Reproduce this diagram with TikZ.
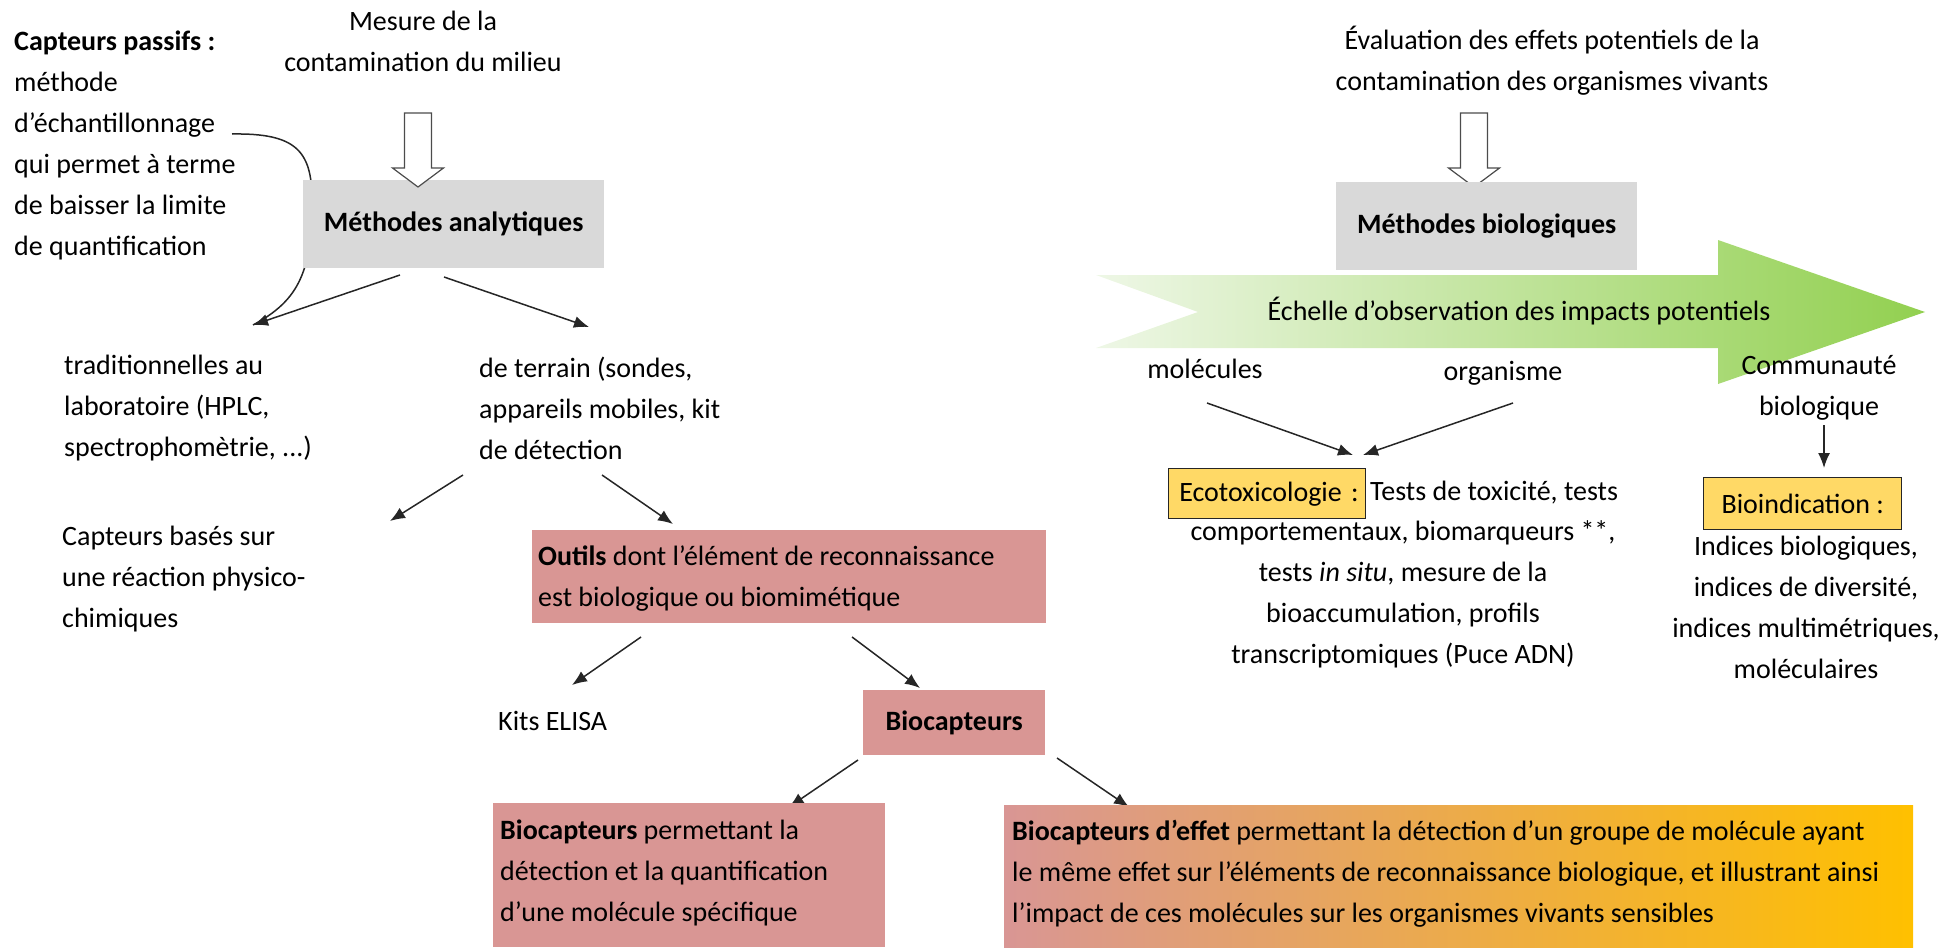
\documentclass[tikz,border=0pt]{standalone}
\usepackage{fontspec}
\setmainfont{Carlito}
\usetikzlibrary{arrows.meta}
\definecolor{grayfill}{HTML}{D9D9D9}
\definecolor{pinkfill}{HTML}{D99694}
\definecolor{goldfill}{HTML}{FFC000}
\definecolor{yellowfill}{HTML}{FFD966}
\definecolor{greenL}{HTML}{EEF7E6}
\definecolor{greenR}{HTML}{92D050}
\newcommand\fsz{\fontsize{28}{41}\selectfont}
\newcommand\hollowarr[1]{\draw[hollow] (#1) ++(-13.5,0) -- ++(0,55) -- ++(-12,0) -- ++(25.5,19) -- ++(25.5,-19) -- ++(-12,0) -- ++(0,-55) -- cycle;}
\begin{document}
\begin{tikzpicture}[x=1pt,y=-1pt,
  every node/.style={font=\fsz, inner sep=0pt, text=black},
  txt/.style={align=left, anchor=north west},
  ctxt/.style={align=center, anchor=north},
  lbl/.style={anchor=base west},
  arr/.style={-{Latex[length=15pt,width=12pt]}, line width=1.5pt, draw=black!85},
  hollow/.style={draw=black!70, line width=1.2pt, fill=white, line join=miter},
  graybox/.style={fill=grayfill, anchor=north west},
  pinkbox/.style={fill=pinkfill, anchor=north west},
  tagbox/.style={fill=yellowfill, draw=black!85, line width=1.4pt, anchor=north west}]
\useasboundingbox (0,0) rectangle (1942,947);

% ---------- left part ----------
\node[txt] (cap) at (14,22) {\strut\textbf{Capteurs passifs :}\\méthode\\d’échantillonnage\\qui permet à terme\\de baisser la limite\\de quantification};
\coordinate (capend) at (232,134);
\coordinate (tradtip) at (253,325);
\draw[line width=1.5pt, draw=black!85] (capend) .. controls (295,133) and (312,150) .. (312,200) .. controls (312,270) and (300,300) .. (tradtip);

\node[ctxt] (mes) at (423,2) {\strut Mesure de la\\contamination du milieu};
\node[graybox, minimum width=301pt, minimum height=88pt] (ma) at (303,180) {\textbf{Méthodes analytiques}};
\coordinate (ha1) at (418,113);
\hollowarr{ha1}

\coordinate (a1s) at (400,275);
\draw[arr] (a1s) -- (tradtip);
\coordinate (a2s) at (444,277); \coordinate (a2e) at (589,327);
\draw[arr] (a2s) -- (a2e);

\node[txt] (trad) at (64,346) {\strut traditionnelles au\\laboratoire (HPLC,\\spectrophomètrie, ...)};
\node[txt] (terr) at (479,349) {\strut de terrain (sondes,\\appareils mobiles, kit\\de détection};

\coordinate (a3s) at (463,475); \coordinate (a3e) at (390,521);
\draw[arr] (a3s) -- (a3e);
\coordinate (a4s) at (602,475); \coordinate (a4e) at (673,524);
\draw[arr] (a4s) -- (a4e);

\node[txt] (capb) at (62,517) {\strut Capteurs basés sur\\une réaction physico-\\chimiques};

\node[pinkbox, minimum width=514pt, minimum height=93pt] (outils) at (532,530) {};
\node[txt] (outilst) at (538,537) {\strut\textbf{Outils} dont l’élément de reconnaissance\\est biologique ou biomimétique};

\coordinate (a5s) at (641,637); \coordinate (a5e) at (572,685);
\draw[arr] (a5s) -- (a5e);
\coordinate (a6s) at (852,637); \coordinate (a6e) at (920,688);
\draw[arr] (a6s) -- (a6e);

\node[lbl] (kits) at (498,730) {Kits ELISA};
\node[pinkbox, minimum width=182pt, minimum height=65pt] (bioc) at (863,690) {\textbf{Biocapteurs}};

\coordinate (a7s) at (858,760); \coordinate (a7e) at (789,807);
\draw[arr] (a7s) -- (a7e);
\coordinate (a8s) at (1057,758); \coordinate (a8e) at (1129,807);
\draw[arr] (a8s) -- (a8e);

\node[pinkbox, minimum width=392pt, minimum height=144pt] (bc1) at (493,803) {};
\node[txt] (bc1t) at (500,811) {\strut\textbf{Biocapteurs} permettant la\\détection et la quantification\\d’une molécule spécifique};

\node[anchor=north west, minimum width=909pt, minimum height=142pt, left color=pinkfill, right color=goldfill] (bce) at (1004,805) {};
\node[txt] (bcet) at (1012,812) {\strut\textbf{Biocapteurs d’effet} permettant la détection d’un groupe de molécule ayant\\le même effet sur l’éléments de reconnaissance biologique, et illustrant ainsi\\l’impact de ces molécules sur les organismes vivants sensibles};

% ---------- right part ----------
\node[ctxt] (eval) at (1552,21) {\strut Évaluation des effets potentiels de la\\contamination des organismes vivants};
\coordinate (ha2) at (1474,113);
\hollowarr{ha2}
\node[graybox, minimum width=301pt, minimum height=88pt] (mb) at (1336,182) {\textbf{Méthodes biologiques}};

\path[left color=greenL, right color=greenR] (1096,275) -- (1718,275) -- (1718,240) -- (1925,312) -- (1718,384) -- (1718,348) -- (1096,348) -- (1198,312) -- cycle;
\node[anchor=base] (ech) at (1519,320) {Échelle d’observation des impacts potentiels};

\node[anchor=base] (mol) at (1205,378) {molécules};
\node[anchor=base] (org) at (1503,380) {organisme};
\node[ctxt] (comm) at (1819,346) {\strut Communauté\\biologique};

\coordinate (b1s) at (1207,403); \coordinate (b1e) at (1353,455);
\draw[arr] (b1s) -- (b1e);
\coordinate (b2s) at (1513,403); \coordinate (b2e) at (1363,455);
\draw[arr] (b2s) -- (b2e);
\coordinate (b3s) at (1824,425); \coordinate (b3e) at (1824,468);
\draw[arr] (b3s) -- (b3e);

\node[tagbox, minimum height=50pt, text width=183pt, inner xsep=7pt, align=right] (eco) at (1168,468) {Ecotoxicologie :};
\node[lbl] (ecot) at (1370,500) {Tests de toxicité, tests};
\node[ctxt] (ecorest) at (1403,512) {\strut comportementaux, biomarqueurs **,\\tests \textit{in situ}, mesure de la\\bioaccumulation, profils\\transcriptomiques (Puce ADN)};

\node[tagbox, minimum width=198pt, minimum height=52pt] (bio) at (1703,477) {Bioindication :};
\node[ctxt] (biorest) at (1806,527) {\strut Indices biologiques,\\indices de diversité,\\indices multimétriques,\\moléculaires};
\end{tikzpicture}
\end{document}
